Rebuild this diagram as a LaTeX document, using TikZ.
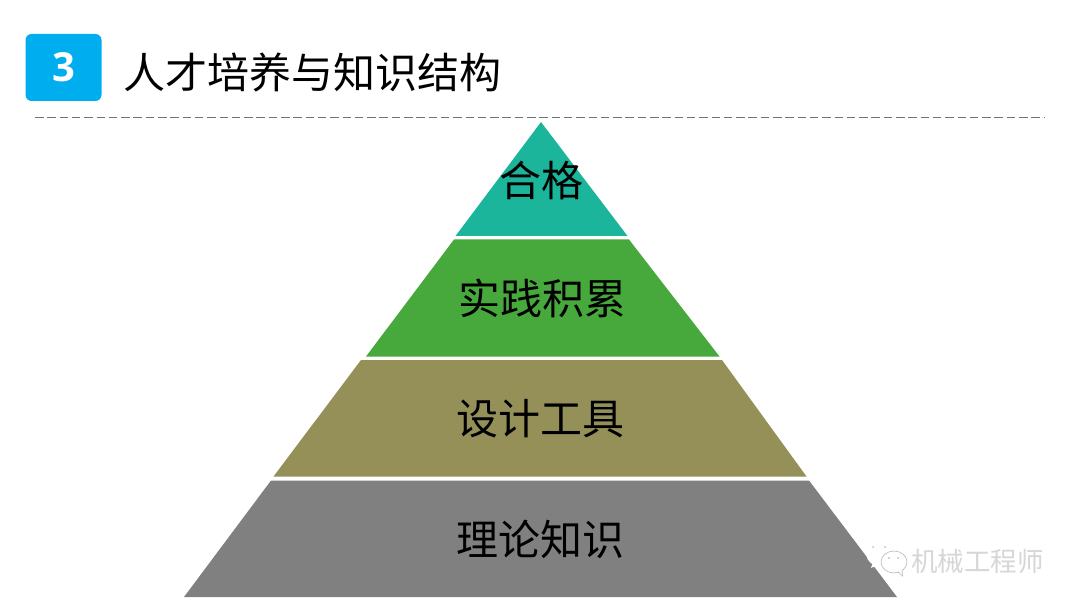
\documentclass[tikz,border=0pt]{standalone}
\usepackage{fontspec}
\setmainfont{Noto Sans CJK SC}
\newfontfamily\numfont{Open Sans}

\definecolor{numblue}{RGB}{0,174,239}
\definecolor{tealtier}{RGB}{27,181,156}
\definecolor{greentier}{RGB}{71,168,60}
\definecolor{olivetier}{RGB}{149,144,88}
\definecolor{greytier}{RGB}{128,128,128}

\begin{document}
\begin{tikzpicture}[x=1pt,y=-1pt,
    tier/.style={inner sep=0pt,font=\fontsize{42}{42}\selectfont,text=black},
    markfont/.style={inner sep=0pt,anchor=west,font=\fontsize{26.5}{27}\selectfont}]
            \useasboundingbox (0,0) rectangle (1080,607);
            \node[fill=white,minimum width=1080pt,minimum height=607pt,inner sep=0pt,anchor=north west] (back) at (0,0) {};
            \node[fill=numblue,rounded corners=6pt,minimum width=76pt,minimum height=67pt,inner sep=0pt,text=white,font=\numfont\bfseries\fontsize{40}{40}\selectfont] (num) at (63.5,67.5) {3};
            \node[inner sep=0pt,anchor=west,font=\fontsize{42}{42}\selectfont] (title) at (123.5,72) {人才培养与知识结构};
            \coordinate (ruleL) at (35,117.7);
            \coordinate (ruleR) at (1045,117.7);
            \draw[black!55,line width=1.2pt,dash pattern=on 8.5pt off 3.8pt] (ruleL) -- (ruleR);
            % the four tiers
            \fill[tealtier] (541,122) -- (627.5,236) -- (455.5,236) -- cycle;
            \fill[greentier] (454,239.5) -- (629,239.5) -- (719.5,356.5) -- (366,356.5) -- cycle;
            \fill[olivetier] (361,360) -- (722,360) -- (806.5,476.5) -- (273.5,476.5) -- cycle;
            \fill[greytier] (271,480.5) -- (809,480.5) -- (897,597) -- (184,597) -- cycle;
            \node[tier] (t1) at (541.5,180) {合格};
            \node[tier] (t2) at (542,298) {实践积累};
            \node[tier] (t3) at (540.5,419) {设计工具};
            \node[tier] (t4) at (540,539) {理论知识};
            % watermark
            \node[markfont,text=white] (markB) at (911.6,561.6) {机械工程师};
            \node[markfont,text=black!16] (mark) at (911,561) {机械工程师};
            \fill[white] (879.5,554.5) ellipse (13pt and 11.5pt);
            \fill[white] (873,562) -- (871,568) -- (880,564) -- cycle;
            \draw[black!28,line width=0.6pt,fill=white] (894,562) ellipse (13pt and 11pt);
            \draw[black!28,line width=0.6pt,fill=white] (898,571.5) -- (902.5,576) -- (902,569.5);
            \fill[white] (896,566) circle (4pt);
            \fill[black!35] (889,558) circle (0.9pt) (898,558) circle (0.9pt);
            \fill[black!25] (873,547) circle (1pt) (885,547) circle (1pt);
\end{tikzpicture}
\end{document}
